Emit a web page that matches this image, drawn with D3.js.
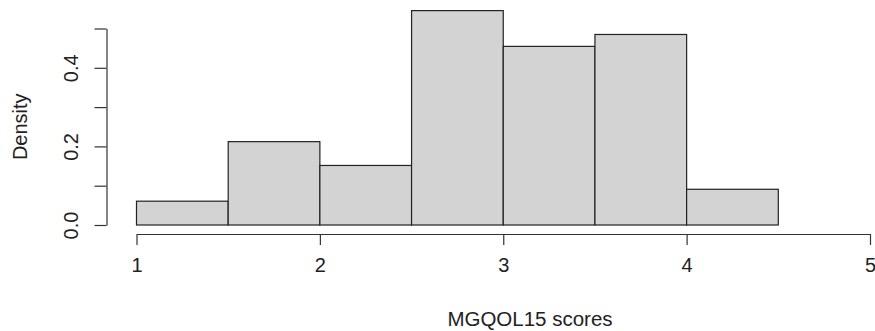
<!DOCTYPE html>
<html>
<head>
<meta charset="utf-8">
<script src="https://cdn.jsdelivr.net/npm/d3@7"></script>
<style>
  body { margin: 0; background: #fff; }
  text { font-family: "Liberation Sans", Arial, sans-serif; fill: #222; }
</style>
</head>
<body>
<div id="chart"></div>
<script>
// histogram bins (left edge, right edge) and densities
const binStart = [1, 1.5, 2, 2.5, 3, 3.5, 4];
const binEnd = [1.5, 2, 2.5, 3, 3.5, 4, 4.5];
const density = [0.0606, 0.2121, 0.1515, 0.5455, 0.4545, 0.4848, 0.0909];
const xTicks = [1, 2, 3, 4, 5];
const yTicks = [0, 0.1, 0.2, 0.3, 0.4, 0.5];
const yLabels = ["0.0", "", "0.2", "", "0.4", ""];

const totalW = 875, totalH = 331;
const margin = {top: 28.5, right: 5, bottom: 106, left: 136.5},
    width = totalW - margin.left - margin.right,
    height = totalH - margin.top - margin.bottom;

const svg = d3.select("#chart")
    .append("svg")
    .attr("width", totalW)
    .attr("height", totalH)
    .append("g")
    .attr("transform", `translate(${margin.left},${margin.top})`);

const x = d3.scaleLinear().domain([1, 5]).range([0, 733.5]);
const y = d3.scaleLinear().domain([0, 0.5]).range([height, 0]);

// bars
svg.selectAll("rect.bar")
    .data(density)
    .join("rect")
    .attr("class", "bar")
    .attr("x", (d, i) => x(binStart[i]))
    .attr("width", (d, i) => x(binEnd[i]) - x(binStart[i]))
    .attr("y", d => y(d))
    .attr("height", d => height - y(d))
    .attr("fill", "#d3d3d3")
    .attr("stroke", "#222")
    .attr("stroke-width", 1.2);

// x axis (R style, offset below the plot)
const xAxis = svg.append("g")
    .attr("transform", `translate(0, ${height + 9})`)
    .call(d3.axisBottom(x).tickValues(xTicks).tickFormat(d3.format("d"))
        .tickSize(11).tickPadding(13).tickSizeOuter(0));
xAxis.select(".domain").attr("stroke", "#333").attr("stroke-width", 1.2);
xAxis.selectAll(".tick line").attr("stroke", "#333").attr("stroke-width", 1.2);
xAxis.selectAll("text").style("font-size", "20px").attr("fill", "#222");

// y axis
const yAxis = svg.append("g")
    .attr("transform", `translate(${-30}, 0)`)
    .call(d3.axisLeft(y).tickValues(yTicks).tickFormat((d, i) => yLabels[i])
        .tickSize(12).tickSizeOuter(0));
yAxis.select(".domain").attr("stroke", "#333").attr("stroke-width", 1.2);
yAxis.selectAll(".tick line").attr("stroke", "#333").attr("stroke-width", 1.2);
yAxis.selectAll(".tick text")
    .style("font-size", "20px")
    .attr("fill", "#222")
    .attr("x", 0)
    .attr("dy", 0)
    .attr("text-anchor", "middle")
    .attr("transform", "translate(-29,0) rotate(-90)");

// axis titles
svg.append("text")
    .attr("x", 530 - margin.left)
    .attr("y", totalH - margin.top - 5)
    .attr("text-anchor", "middle")
    .style("font-size", "20.5px")
    .text("MGQOL15 scores");

svg.append("text")
    .attr("transform", `translate(${27 - margin.left}, ${y(0.25)}) rotate(-90)`)
    .attr("text-anchor", "middle")
    .style("font-size", "20px")
    .text("Density");
</script>
</body>
</html>
